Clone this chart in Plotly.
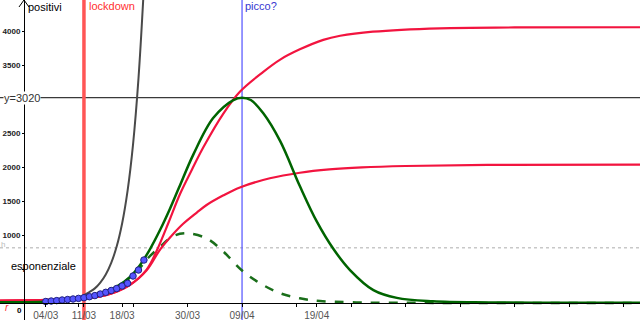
import plotly.graph_objects as go

# ---------------- data (x = day of March, y = positivi) ----------------
obs_days = list(range(4, 23))
obs_vals = [22, 29, 35, 44, 51, 59, 68, 78, 93, 109, 132, 157, 184, 213, 250, 290, 397, 485, 632]

exp_days = [-4.4, 2, 6, 8, 10, 11, 12, 13, 14, 15, 16, 17, 18, 19, 20, 21, 22]
exp_vals = [15, 25, 38, 50, 80, 115, 160, 215, 300, 420, 590, 830, 1170, 1650, 2330, 3300, 4650]

up_days = [-4.4, 3, 8, 11, 15, 19.4, 22.5, 24.3, 26.5, 28.6, 30.8, 32.9, 36.6, 39.6, 43.9, 47, 50.6, 54.9, 58, 64, 76.3, 90, 113]
up_vals = [35, 44, 55, 69, 115, 265, 490, 760, 1180, 1600, 1960, 2290, 2790, 3107, 3400, 3580, 3730, 3870, 3930, 3990, 4040, 4052, 4055]

lo_days = [-4.4, 3, 8, 11, 15, 19.4, 22.5, 25, 27.2, 29.2, 31.7, 33.5, 36.5, 39.6, 45.1, 50.6, 56, 62, 70, 85, 113]
lo_vals = [35, 44, 55, 69, 115, 265, 480, 790, 1000, 1165, 1330, 1441, 1580, 1700, 1834, 1916, 1965, 1995, 2015, 2030, 2035]

gs_days = [-4.4, 4, 8, 11, 14, 17, 19.4, 21.3, 23.1, 25, 26.8, 28.4, 31.1, 34.7, 38.4, 40, 41.6, 43.9, 47, 50.6, 53.7, 56.8, 59.8, 64.1, 68.4, 75, 85, 100, 113]
gs_vals = [10, 20, 40, 70, 130, 240, 380, 560, 790, 1080, 1390, 1690, 2190, 2720, 2985, 3020, 2985, 2790, 2380, 1720, 1200, 790, 485, 190, 75, 25, 8, 3, 2]

gd_days = [-4.4, 4, 8, 11, 14, 17, 19.4, 21.3, 22.5, 25, 27.4, 29.8, 33.5, 36.6, 39.9, 43.3, 47, 50.6, 54.3, 60, 70, 113]
gd_vals = [10, 20, 38, 65, 125, 230, 370, 520, 640, 830, 985, 1025, 950, 754, 485, 290, 143, 69, 30, 10, 3, 0]

lockdown_day = 11
peak_day = 40
threshold = 3020
h_level = 813

date_days = [4, 11, 18, 30, 40, 53.7]
date_labels = ["04/03", "11/03", "18/03", "30/03", "09/04", "19/04"]
minor_x = [10, 20, 30, 40, 50, 60, 70, 80, 90, 100, 110]
y_ticks = [500, 1000, 1500, 2000, 2500, 3000, 3500, 4000]
y_ticktext = ["", "1000", "1500", "2000", "2500", "", "3500", "4000"]

X_MIN, X_MAX = -4.4, 113.0
Y_MIN, Y_MAX = -250, 4456

FONT = "Liberation Sans, Arial, sans-serif"
RED = "#f2143f"
GREEN = "#006400"

fig = go.Figure()

fig.add_hline(y=h_level, line=dict(color="#c8c8c8", width=1.5, dash="dot"), layer="below")
fig.add_hline(y=threshold, line=dict(color="#3a3a3a", width=1.3), layer="below")
fig.add_vline(x=lockdown_day, line=dict(color="#ff5555", width=3.5), layer="below")
fig.add_vline(x=peak_day, line=dict(color="#5050ff", width=1.2), layer="below")

def curve(x, y, color, width, dash="solid"):
    fig.add_trace(go.Scatter(x=x, y=y, mode="lines",
                             line=dict(color=color, width=width, dash=dash, shape="spline", smoothing=1.0),
                             hoverinfo="skip"))

curve(exp_days, exp_vals, "#4a4a4a", 2)
curve(gd_days, gd_vals, "#1a6e1a", 2.5, "dash")
curve(lo_days, lo_vals, RED, 2.2)
curve(up_days, up_vals, RED, 2.2)
curve(gs_days, gs_vals, GREEN, 2.5)

fig.add_trace(go.Scatter(x=obs_days, y=obs_vals, mode="markers",
                         marker=dict(size=6.5, color="#5555ff", line=dict(color="#202080", width=1)),
                         hoverinfo="skip"))

# y-axis arrow
fig.add_shape(type="path", xref="x", yref="y", xsizemode="pixel", ysizemode="pixel",
              xanchor=0, yanchor=Y_MAX, path="M -5,-7 L 0,0 L 5,-7",
              line=dict(color="black", width=1))

def label(x, y, text, color, size=11, xanchor="left", bg=None, italic=False, weight="normal"):
    fig.add_annotation(x=x, y=y, xref="x", yref="y", text=text, showarrow=False,
                       xanchor=xanchor, yanchor="middle",
                       font=dict(family=FONT, size=size, color=color,
                                 style="italic" if italic else "normal", weight=weight),
                       bgcolor=bg, borderpad=0)

label(0.6, 4360, "positivi", "black")
label(11.7, 4370, "lockdown", "#ff3030")
label(40.3, 4370, "picco?", "#3535d0")
label(-2.6, 540, "esponenziale", "black")
label(-3.9, threshold, "y=3020", "#333333", bg="white")
label(-4.35, 860, "h", "#bbbbbb", size=8)
label(-3.7, -70, "r", "#ff3030", size=10, italic=True)
label(-0.15, -110, "0", "black", size=8, xanchor="right", weight="bold")

fig.update_layout(
    width=640, height=320, margin=dict(l=0, r=0, t=0, b=0),
    paper_bgcolor="white", plot_bgcolor="white", showlegend=False,
    xaxis=dict(range=[X_MIN, X_MAX], anchor="free", position=(0 - Y_MIN) / (Y_MAX - Y_MIN),
               showline=True, linecolor="black", linewidth=1, showgrid=False, zeroline=False,
               tickvals=date_days, ticktext=date_labels, ticks="outside", ticklen=3,
               tickcolor="black", tickfont=dict(family=FONT, size=10, color="#555555"),
               minor=dict(tickvals=minor_x, ticks="outside", ticklen=3, tickcolor="black")),
    yaxis=dict(range=[Y_MIN, Y_MAX], anchor="free", position=(0 - X_MIN) / (X_MAX - X_MIN),
               showline=True, linecolor="black", linewidth=1, showgrid=False, zeroline=False,
               tickvals=y_ticks, ticktext=y_ticktext, ticks="outside", ticklen=2,
               tickcolor="black", tickfont=dict(family=FONT, size=8, color="#222222", weight="bold")),
)

fig.write_html("out.html")
